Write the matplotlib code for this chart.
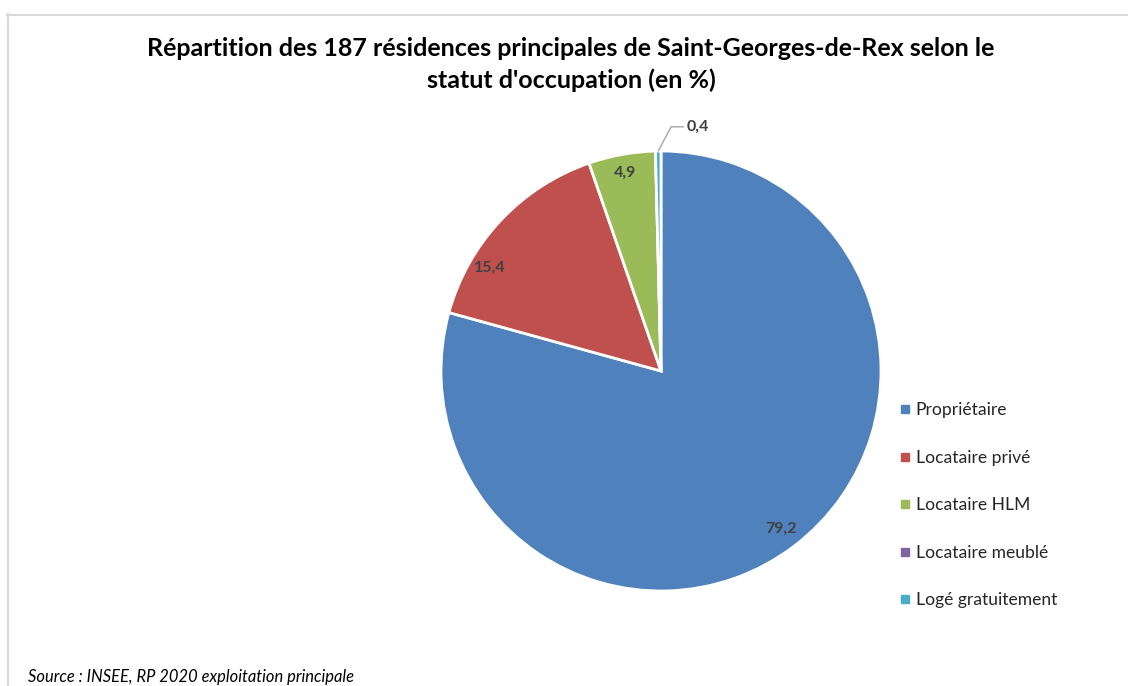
import matplotlib
matplotlib.use('Agg')
import matplotlib.pyplot as plt
from matplotlib.lines import Line2D
import numpy as np

plt.rcParams['font.family'] = ['Lato', 'DejaVu Sans']

# data
categories = ['Propriétaire', 'Locataire privé', 'Locataire HLM', 'Locataire meublé', 'Logé gratuitement']
values = [79.2, 15.4, 4.9, 0.0, 0.4]
value_labels = ['79,2', '15,4', '4,9', '', '0,4']
colors = ['#4F81BD', '#C0504D', '#9BBB59', '#8064A2', '#4BACC6']
title = "Répartition des 187 résidences principales de Saint-Georges-de-Rex selon le\nstatut d'occupation (en %)"
source = 'Source : INSEE, RP 2020 exploitation principale'

W, H = 1128, 686
fig = plt.figure(figsize=(W / 100, H / 100), dpi=100)

# pie axes : centre (661, 371) px, rayon 220 px
cx, cy, r = 661, 371, 220
ax = fig.add_axes([(cx - r) / W, (H - cy - r) / H, 2 * r / W, 2 * r / H])
wedges, _ = ax.pie(values, colors=colors, startangle=90, counterclock=False,
                   wedgeprops=dict(edgecolor='white', linewidth=2))
ax.set_xlim(-1, 1)
ax.set_ylim(-1, 1)
ax.axis('off')

# data labels (position radiale / angle ajusté comme dans excel)
label_pos = {0: (0.9, 0), 1: (0.91, 12), 2: (0.915, 0)}
for i, (r_lab, dang) in label_pos.items():
    w = wedges[i]
    ang = np.deg2rad((w.theta1 + w.theta2) / 2 + dang)
    ax.text(r_lab * np.cos(ang), r_lab * np.sin(ang), value_labels[i],
            ha='center', va='center', fontsize=11.5, fontweight='bold', color='#404040')

# petite part avec ligne de rappel
w = wedges[4]
ang = np.deg2rad((w.theta1 + w.theta2) / 2)
ax.annotate(value_labels[4], xy=(np.cos(ang), np.sin(ang)), xytext=(0.115, 1.11),
            ha='left', va='center', fontsize=11.5, fontweight='bold', color='#404040',
            annotation_clip=False,
            arrowprops=dict(arrowstyle='-', color='#A6A6A6', lw=1,
                            shrinkA=0, shrinkB=0,
                            connectionstyle='angle,angleA=0,angleB=62,rad=0'))

# legend
handles = [Line2D([], [], marker='s', linestyle='', markersize=6,
                  markerfacecolor=c, markeredgecolor=c) for c in colors]
fig.legend(handles, categories, loc='center left', bbox_to_anchor=(884 / W, (H - 505.5) / H),
           frameon=False, fontsize=12.6, handlelength=0.6, handletextpad=0.3,
           labelspacing=1.8, labelcolor='#262626')

# title / source
fig.text(571 / W, (H - 64.5) / H, title, ha='center', va='center', fontsize=18,
         fontweight='bold', color='black', linespacing=1.45)
fig.text(28 / W, (H - 677) / H, source, ha='left', va='center', fontsize=11.9,
         style='italic', color='black')

# bordure du cadre
fig.add_artist(Line2D([7.5 / W, 7.5 / W], [0, (H - 14) / H], color='#D9D9D9', lw=1.5))
fig.add_artist(Line2D([7 / W, 1], [(H - 14.5) / H, (H - 14.5) / H], color='#D9D9D9', lw=1.5))

fig.savefig('out.png', dpi=100)
